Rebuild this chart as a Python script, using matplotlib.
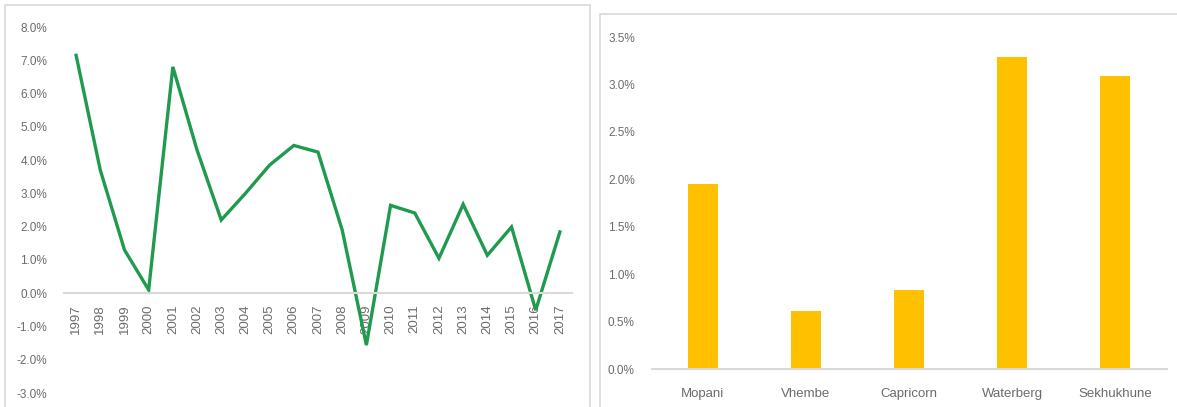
import matplotlib.pyplot as plt
from matplotlib.patches import Rectangle
from matplotlib.ticker import FuncFormatter

# left panel: annual growth
years = [str(y) for y in range(1997, 2018)]
growth = [7.15, 3.7, 1.3, 0.1, 6.8, 4.3, 2.2, 3.0, 3.85, 4.44, 4.24,
          1.9, -1.56, 2.64, 2.41, 1.05, 2.67, 1.14, 1.99, -0.51, 1.84]

# right panel: districts
districts = ['Mopani', 'Vhembe', 'Capricorn', 'Waterberg', 'Sekhukhune']
district_growth = [1.95, 0.61, 0.83, 3.29, 3.09]

plt.rcParams['font.family'] = ['Liberation Sans', 'DejaVu Sans']
txt = '#6b6b6b'
grey = '#d9d9d9'

fig = plt.figure(figsize=(11.77, 4.07), dpi=100)

# panel frames
fig.patches.append(Rectangle((5 / 1177, -0.01), 585 / 1177, (407 - 5) / 407 + 0.01,
                             transform=fig.transFigure, fill=False, ec=grey, lw=1.2))
fig.patches.append(Rectangle((600 / 1177, -0.01), 0.5, (407 - 14) / 407 + 0.01,
                             transform=fig.transFigure, fill=False, ec=grey, lw=1.2))

pct1 = FuncFormatter(lambda v, p: f'{v:.1f}%')

# %% line chart
ax = fig.add_axes([64 / 1177, 14 / 407, 508 / 1177, 366 / 407])
x = list(range(len(years)))
ax.plot(x, growth, color='#1f9a4e', lw=2.4, solid_joinstyle='miter')
ax.set_xlim(-0.5, len(years) - 0.5)
ax.set_ylim(-3, 8)
for s in ['top', 'right', 'left']:
    ax.spines[s].set_visible(False)
# spine move resets ticks, so do it before labelling
ax.spines['bottom'].set_position(('data', 0))
ax.spines['bottom'].set_color(grey)
ax.spines['bottom'].set_linewidth(1.5)
ax.set_yticks(range(-3, 9))
ax.yaxis.set_major_formatter(pct1)
ax.set_xticks(x)
ax.set_xticklabels(years)
ax.tick_params(axis='y', length=0, pad=12, labelsize=8.5, labelcolor=txt)
ax.tick_params(axis='x', length=0, pad=8, labelsize=9.5, labelcolor=txt,
               labelrotation=90)
ax.patch.set_alpha(0)

# %% bar chart
bx = fig.add_axes([651.5 / 1177, 38 / 407, 515 / 1177, 332 / 407])
bx.bar(range(len(districts)), district_growth, width=0.3, color='#ffc000')
bx.set_xlim(-0.5, len(districts) - 0.5)
bx.set_ylim(0, 3.5)
bx.set_yticks([i * 0.5 for i in range(8)])
bx.yaxis.set_major_formatter(pct1)
bx.set_xticks(range(len(districts)))
bx.set_xticklabels(districts)
for s in ['top', 'right', 'left']:
    bx.spines[s].set_visible(False)
bx.spines['bottom'].set_color(grey)
bx.spines['bottom'].set_linewidth(1.5)
bx.tick_params(axis='y', length=0, pad=12, labelsize=8.5, labelcolor=txt)
bx.tick_params(axis='x', length=0, pad=14, labelsize=9.5, labelcolor=txt)
bx.patch.set_alpha(0)

fig.savefig('out.png', dpi=100)
